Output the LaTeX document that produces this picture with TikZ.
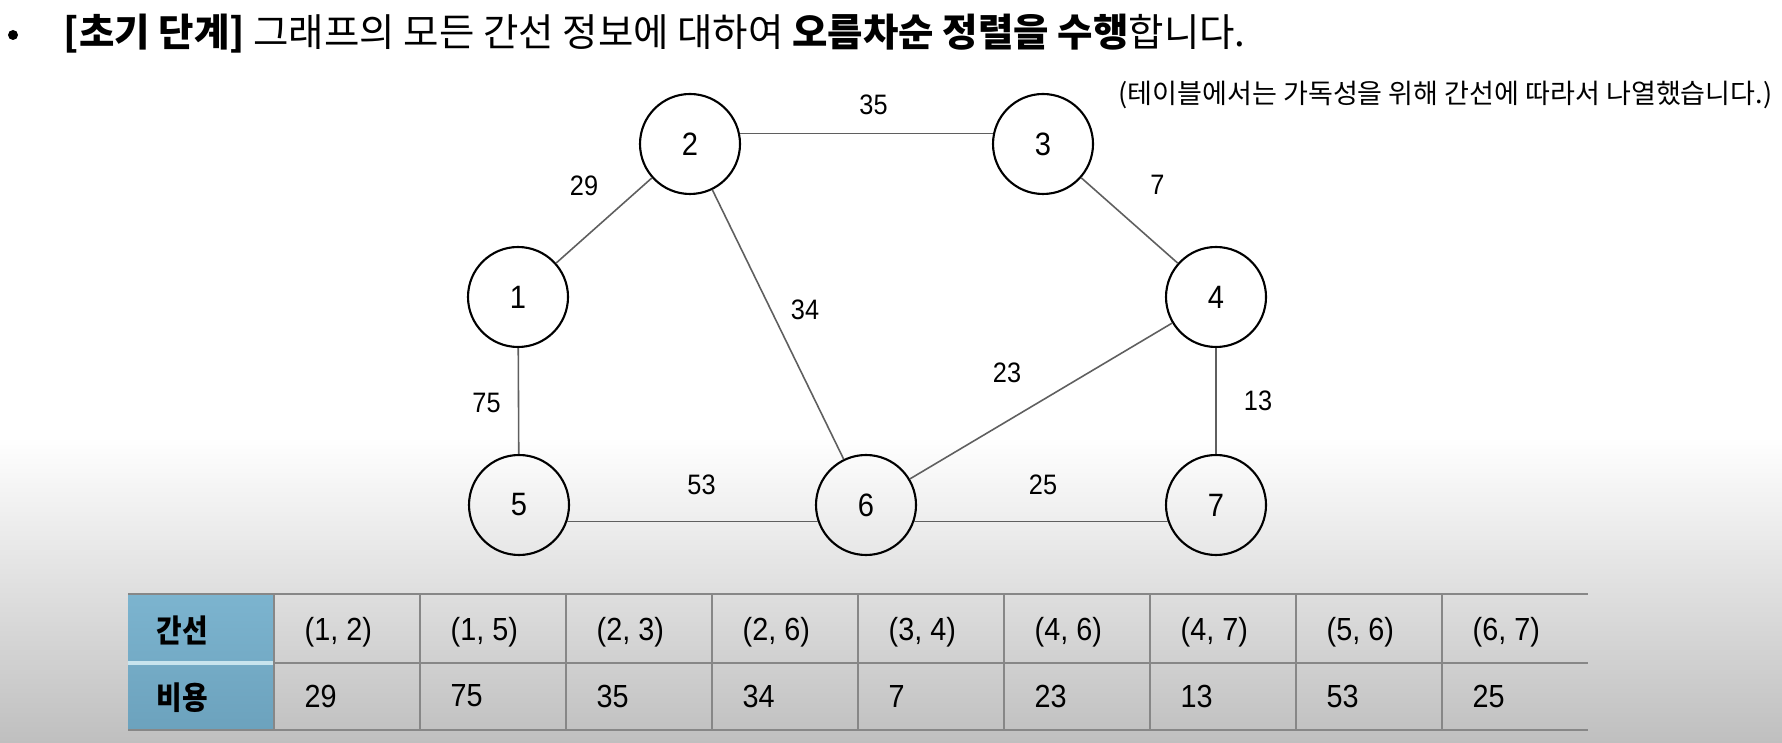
\documentclass[tikz,border=0pt]{standalone}
\usepackage{fontspec}
\usepackage{xcolor}
\usepackage{tikz}
\usetikzlibrary{positioning}

\setmainfont{Liberation Sans}
\newfontfamily\kr{Noto Sans CJK KR}
\newfontfamily\krn[FakeStretch=0.88]{Noto Sans CJK KR}
\newfontfamily\numfont[FakeStretch=0.9]{Liberation Sans}

\definecolor{hdrtop}{RGB}{124,180,207}
\definecolor{hdrbot}{RGB}{108,162,189}
\definecolor{hdrline}{RGB}{200,228,238}
\definecolor{rulegray}{RGB}{135,135,135}
\definecolor{edgegray}{RGB}{95,95,95}

\begin{document}
\begin{tikzpicture}[
  vtx/.style={circle, draw=black, line width=0.6pt, minimum size=1cm, inner sep=0pt, font=\numfont\fontsize{9.2}{10}\selectfont},
  wlbl/.style={inner sep=0pt, font=\numfont\fontsize{8}{9}\selectfont},
  edge/.style={draw=edgegray, line width=0.45pt},
  cell/.style={anchor=west, inner sep=0pt, font=\numfont\fontsize{9.1}{10}\selectfont},
  hdr/.style={anchor=west, inner sep=0pt, font=\krn\bfseries\fontsize{9}{10}\selectfont},
  rule/.style={draw=rulegray, line width=0.75pt},
  vrule/.style={draw=rulegray, line width=0.55pt}
]
  % page and background
  \useasboundingbox (0,0) rectangle (17.82,7.42);
  \fill[white] (0,0) rectangle (17.82,7.42);
  \shade[top color=white, bottom color=black!25] (0,0) rectangle (17.82,3.05);

  % heading
  \node[circle, fill=black, inner sep=0pt, minimum size=0.1cm] (bul) at (0.13,7.07) {};
  \node[anchor=west, inner sep=0pt, font=\kr\fontsize{10.95}{13}\selectfont] (title) at (0.63,7.08)
    {\textbf{[초기 단계]} 그래프의 모든 간선 정보에 대하여 \textbf{오름차순 정렬을 수행}합니다.};
  \node[anchor=east, inner sep=0pt, font=\kr\fontsize{7.7}{9}\selectfont] (note) at (17.73,6.47)
    {(테이블에서는 가독성을 위해 간선에 따라서 나열했습니다.)};

  % graph
  \node[vtx] (n1) at (5.18,4.45) {1};
  \node[vtx] (n2) at (6.90,5.98) {2};
  \node[vtx] (n3) at (10.43,5.98) {3};
  \node[vtx] (n4) at (12.16,4.45) {4};
  \node[vtx] (n5) at (5.19,2.37) {5};
  \node[vtx] (n6) at (8.66,2.37) {6};
  \node[vtx] (n7) at (12.16,2.37) {7};

  \draw[edge] (n1) -- node[wlbl, shift={(-0.20,0.35)}] {29} (n2);
  \draw[edge] (n2.12) -- node[wlbl, shift={(0.07,0.29)}] {35} (n3.168);
  \draw[edge] (n3) -- node[wlbl, shift={(0.28,0.36)}] {7} (n4);
  \draw[edge] (n2) -- node[wlbl, shift={(0.27,0.15)}] {34} (n6);
  \draw[edge] (n4) -- node[wlbl, shift={(-0.34,0.28)}] {23} (n6);
  \draw[edge] (n1) -- node[wlbl, shift={(-0.32,-0.02)}] {75} (n5);
  \draw[edge] (n4) -- node[wlbl, shift={(0.42,0)}] {13} (n7);
  \draw[edge] (n5.-19) -- node[wlbl, shift={(0.09,0.37)}] {53} (n6.199);
  \draw[edge] (n6.-19) -- node[wlbl, shift={(0.02,0.37)}] {25} (n7.199);

  % table
  \shade[top color=hdrtop, bottom color=hdrbot] (1.28,0.12) rectangle (2.74,1.48);
  \draw[hdrline, line width=1pt] (1.28,0.79) -- (2.74,0.79);
  \draw[rule] (1.28,1.48) -- (15.88,1.48);
  \draw[rule] (2.74,0.79) -- (15.88,0.79);
  \draw[rule] (1.28,0.12) -- (15.88,0.12);
  \foreach \k in {1,...,9}
    \draw[vrule] ({1.28+1.46*\k},0.12) -- ({1.28+1.46*\k},1.48);
  \node[hdr] (hedge) at (1.56,1.12) {간선};
  \node[hdr] (hcost) at (1.56,0.44) {비용};
  \foreach \a/\b/\c [count=\i] in {1/2/29, 1/5/75, 2/3/35, 2/6/34, 3/4/7, 4/6/23, 4/7/13, 5/6/53, 6/7/25} {
    \node[cell] (e\i) at ({1.28+1.46*\i+0.30},1.10) {(\a, \b)};
    \node[cell] (c\i) at ({1.28+1.46*\i+0.30},0.46) {\c};
  }
\end{tikzpicture}
\end{document}
